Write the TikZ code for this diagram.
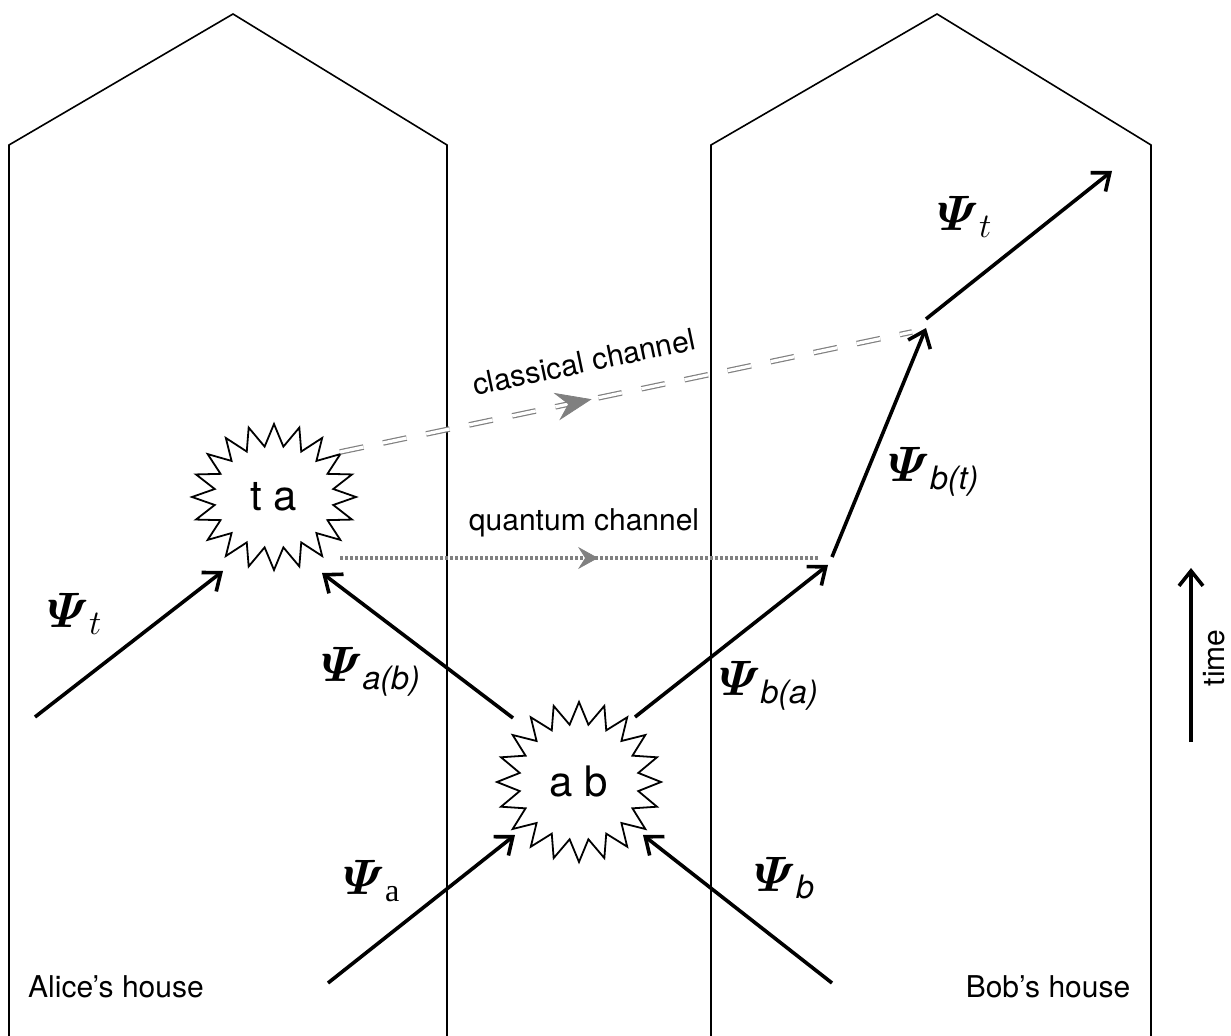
\documentclass[tikz,border=0pt]{standalone}
\usepackage{amsmath}
\usepackage{fontspec}
\setmainfont{TeX Gyre Heros}
\newfontfamily\serif{Liberation Serif}
\usetikzlibrary{arrows.meta,shapes.symbols,decorations.markings}
\tikzset{
  house/.style={line width=0.8pt, line join=miter},
  psiarrow/.style={line width=1.8pt, -{Straight Barb[length=7.5pt,width=12pt,line width=1.8pt]}},
  burst/.style={starburst, draw, line width=0.9pt, fill=white, starburst points=20,
    starburst point height=11pt, random starburst=0,
    font=\fontsize{21}{24}\selectfont, inner sep=0pt},
  lbl/.style={font=\fontsize{15}{18}\selectfont, inner sep=0pt},
  psi/.style={font=\fontsize{23}{27}\selectfont, inner sep=0pt},
  classic/.style={draw=gray, double=white, double distance=1.6pt, line width=0.6pt,
    dash pattern=on 12pt off 10pt},
  quantum/.style={draw=gray, line width=1.7pt, dash pattern=on 1.6pt off 0.9pt},
}
\begin{document}
\begin{tikzpicture}[x=0.5pt,y=-0.5pt]
\useasboundingbox (0,0) rectangle (1231,1036);
% houses
\draw[house] (9,1036) -- (9,145) -- (233,14) -- (447,145) -- (447,1036);
\draw[house] (711,1036) -- (711,145) -- (937,14) -- (1151,145) -- (1151,1036);
\node[lbl] (alice) at (116,987) {Alice’s house};
\node[lbl] (bob) at (1048,987) {Bob’s house};
% interaction nodes
\node[burst, minimum width=82pt, minimum height=73pt] (ta) at (274,497) {t a};
\node[burst, minimum width=82pt, minimum height=80pt] (ab) at (579,782) {a b};
% arrow end points
\coordinate (tin) at (35,717);
\coordinate (tsw) at (223,571);
\coordinate (abnw) at (513,718);
\coordinate (tse) at (322,573);
\coordinate (ain) at (328,983);
\coordinate (absw) at (515,835);
\coordinate (bin) at (832,983);
\coordinate (abse) at (643,835);
\coordinate (abne) at (635,717);
\coordinate (q) at (828,565);
\coordinate (qs) at (832,557);
\coordinate (m) at (926,328);
\coordinate (ms) at (926,319);
\coordinate (tout) at (1112,171);
\coordinate (cs) at (340,452);
\coordinate (ce) at (912,332);
\coordinate (qa) at (340,558);
\coordinate (qb) at (818,558);
\coordinate (t0) at (1191,742);
\coordinate (t1) at (1191,568);
% channels
\draw[classic] (cs) -- (ce);
\path[decorate, decoration={markings, mark=at position 0.44 with
  {\arrow{Stealth[length=18pt,width=14pt,inset=6pt,gray]}}}] (cs) -- (ce);
\node[lbl, rotate=11.8] (cl) at (584,362) {classical channel};
\draw[quantum] (qa) -- (qb);
\path[decorate, decoration={markings, mark=at position 0.54 with
  {\arrow{Stealth[length=10pt,width=11pt,inset=3.5pt,gray]}}}] (qa) -- (qb);
\node[lbl] (ql) at (584,523) {quantum channel};
% state arrows
\draw[psiarrow] (tin) -- (tsw);
\draw[psiarrow] (abnw) -- (tse);
\draw[psiarrow] (ain) -- (absw);
\draw[psiarrow] (bin) -- (abse);
\draw[psiarrow] (abne) -- (q);
\draw[psiarrow] (qs) -- (m);
\draw[psiarrow] (ms) -- (tout);
% labels
\node[psi] (l1) at (75,614) {$\boldsymbol{\varPsi}_{t}$};
\node[psi] (l2) at (371,672) {$\boldsymbol{\varPsi}_{\textit{a(b)}}$};
\node[psi] (l3) at (372,881) {$\boldsymbol{\varPsi}_{\text{\serif a}}$};
\node[psi] (l4) at (785,878) {$\boldsymbol{\varPsi}_{\textit{b}}$};
\node[psi] (l5) at (769,686) {$\boldsymbol{\varPsi}_{\textit{b(a)}}$};
\node[psi] (l6) at (934,472) {$\boldsymbol{\varPsi}_{\textit{b(t)}}$};
\node[psi] (l7) at (965,217) {$\boldsymbol{\varPsi}_{t}$};
% time axis
\draw[psiarrow] (t0) -- (t1);
\node[lbl, rotate=90] (tl) at (1214,658) {time};
\end{tikzpicture}
\end{document}
